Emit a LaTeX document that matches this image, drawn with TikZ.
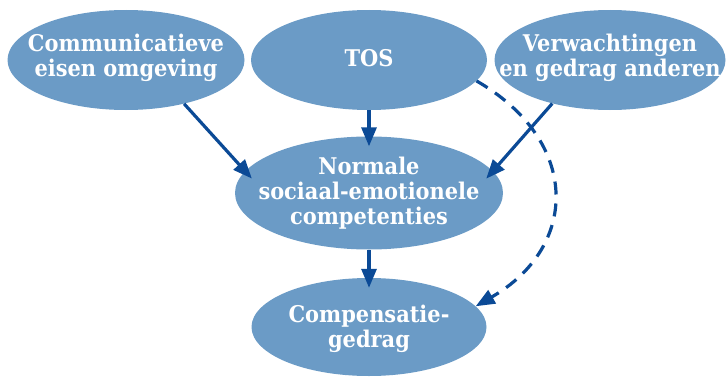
\documentclass[tikz,border=0pt]{standalone}
\usepackage{fontspec}
\setmainfont[FakeStretch=0.91]{DejaVu Serif}
\usetikzlibrary{shapes.geometric,arrows.meta}
\definecolor{ellfill}{HTML}{6B9BC6}
\definecolor{arrowblue}{HTML}{0B4A96}
\tikzset{
  ell/.style={ellipse, fill=ellfill, draw=none, inner sep=0pt},
  lbl/.style={align=center, text=white, inner sep=0pt,
    font=\fontsize{23}{25}\selectfont\bfseries},
  conn/.style={draw=arrowblue, line width=3.2pt, -{Triangle[length=19pt,width=15pt]}},
  dconn/.style={conn, dash pattern=on 13pt off 9pt}
}
\begin{document}
\begin{tikzpicture}[x=1pt,y=1pt]
\useasboundingbox (0,0) rectangle (726,376);
\node[ell, minimum width=237pt, minimum height=100pt] (comm) at (126,316) {};
\node[ell, minimum width=236pt, minimum height=100pt] (tos) at (369,316) {};
\node[ell, minimum width=231pt, minimum height=100pt] (verw) at (610,316) {};
\node[ell, minimum width=268pt, minimum height=113pt] (norm) at (369,183) {};
\node[ell, minimum width=235pt, minimum height=98pt] (comp) at (369,49) {};
\node[lbl] (commt) at (126,318) {Communicatieve\\eisen omgeving};
\node[lbl] (tost) at (369,318) {TOS};
\node[lbl] (verwt) at (610,318) {Verwachtingen\\en gedrag anderen};
\node[lbl] (normt) at (369,183) {Normale\\sociaal-emotionele\\competenties};
\node[lbl] (compt) at (369,47) {Compensatie-\\gedrag};
\draw[conn, shorten >=-10pt] (comm.-37) -- (norm.170);
\draw[conn, shorten >=-10pt] (tos.south) -- (norm.north);
\draw[conn, shorten >=-10pt] (verw.217) -- (norm.10);
\draw[conn, shorten >=-10pt] (norm.south) -- (comp.north);
\draw[dconn] (tos.-11) to[out=-30,in=30,looseness=1.36] (comp.11);
\end{tikzpicture}
\end{document}
